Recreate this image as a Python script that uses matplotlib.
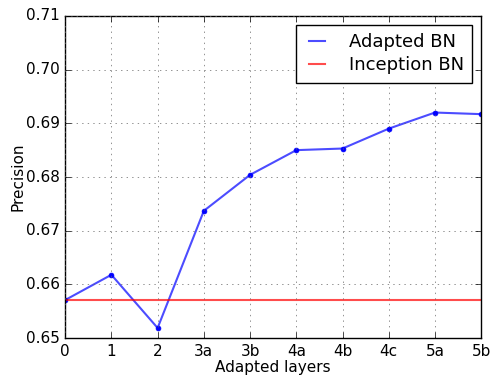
import numpy as np
import matplotlib
matplotlib.use('Agg')
import matplotlib.pyplot as plt

plt.style.use('classic')

layers = ['0', '1', '2', '3a', '3b', '4a', '4b', '4c', '5a', '5b']
adapted_bn = [0.6571, 0.6618, 0.6519, 0.6737, 0.6804, 0.6850, 0.6853, 0.6890, 0.6920, 0.6917]
inception_bn = 0.6571

x = np.arange(len(layers))

fig = plt.figure(figsize=(4.9, 3.77), dpi=100, facecolor='white')
ax = fig.add_axes([0.133, 0.103, 0.849, 0.855])

ax.plot(x, adapted_bn, 'b-', lw=1.5, alpha=0.7, label='Adapted BN')
ax.plot(x, adapted_bn, 'bo', ms=3.5, mec='b', mew=0.5)
ax.plot(x, [inception_bn] * len(x), 'r-', lw=1.5, alpha=0.7, label='Inception BN')

ax.set_xlim(0, len(layers) - 1)
ax.set_ylim(0.65, 0.71)
ax.set_xticks(x)
ax.set_xticklabels(layers)
ax.set_yticks(np.arange(0.65, 0.7101, 0.01))
ax.set_yticklabels(['%.2f' % v for v in np.arange(0.65, 0.7101, 0.01)])
ax.tick_params(labelsize=11)
ax.grid(True, color='0.4')
ax.set_xlabel('Adapted layers', fontsize=11, labelpad=1)
ax.set_ylabel('Precision', fontsize=11, labelpad=0)
ax.legend(loc='upper right', fontsize=13, handlelength=1.5, handletextpad=1.0,
          borderpad=0.45, labelspacing=0.3)

fig.savefig('out.png', dpi=100, facecolor='white')
